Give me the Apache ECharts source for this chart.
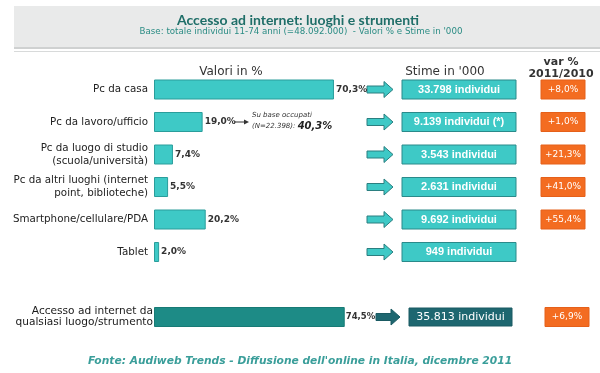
<!DOCTYPE html>
<html><head><meta charset="utf-8">
<script src="https://cdn.jsdelivr.net/npm/echarts@6/dist/echarts.min.js"></script>
<style>html,body{margin:0;padding:0;background:#fff}#c{width:600px;height:373px}</style>
</head><body><div id="c"></div>
<script>
const categories = ['Pc da casa', 'Pc da lavoro/ufficio', 'Pc da luogo di studio\n(scuola/università)', 'Pc da altri luoghi (internet\npoint, biblioteche)', 'Smartphone/cellulare/PDA', 'Tablet'];
const percentValues = [70.3, 19.0, 7.4, 5.5, 20.2, 2.0];
const estimates = ['33.798 individui', '9.139 individui (*)', '3.543 individui', '2.631 individui', '9.692 individui', '949 individui'];
const changes = ['+8,0%', '+1,0%', '+21,3%', '+41,0%', '+55,4%', ''];
const totalCategory = ['Accesso ad internet da\nqualsiasi luogo/strumento'];
const totalValue = [74.5];
const totalEstimate = ['35.813 individui'];
const totalChange = ['+6,9%'];

const FONT = '"DejaVu Sans", Verdana, sans-serif';
const fmt = v => v.toFixed(1).replace('.', ',') + '%';

function decor(est, chg, L) {
  return function (params, api) {
    const i = api.value(1);
    const y = api.coord([0, i])[1];
    const hx = L.ax1 - 9;
    const ch = [];
    ch.push({ type: 'polygon', shape: { points: [[L.ax0, y - 3.5], [hx, y - 3.5], [hx, y - 8], [L.ax1, y], [hx, y + 8], [hx, y + 3.5], [L.ax0, y + 3.5]] },
      style: { fill: L.arrowFill, stroke: L.arrowStroke, lineWidth: 1 } });
    ch.push({ type: 'rect', shape: { x: L.bx0, y: y - L.bh / 2, width: L.bx1 - L.bx0, height: L.bh },
      style: { fill: L.boxFill, stroke: L.boxStroke, lineWidth: 1 } });
    ch.push({ type: 'text', style: { text: est[i], x: (L.bx0 + L.bx1) / 2, y: y, textAlign: 'center', textVerticalAlign: 'middle', fill: '#fff', font: L.boxFont } });
    if (chg[i]) {
      ch.push({ type: 'rect', shape: { x: L.vx0, y: y - L.vh / 2, width: L.vx1 - L.vx0, height: L.vh },
        style: { fill: '#f36c21', stroke: '#e5601a', lineWidth: 1 } });
      ch.push({ type: 'text', style: { text: chg[i], x: (L.vx0 + L.vx1) / 2, y: y, textAlign: 'center', textVerticalAlign: 'middle', fill: '#fff', font: '9px ' + FONT } });
    }
    return { type: 'group', children: ch };
  };
}

const mainLayout = { ax0: 367, ax1: 393, bx0: 402, bx1: 516, bh: 19, vx0: 541, vx1: 585, vh: 19,
  arrowFill: '#3ec9c6', arrowStroke: '#2b7f80', boxFill: '#3ec9c6', boxStroke: '#2a8a8a', boxFont: 'bold 11px "Liberation Sans", Arial, sans-serif' };
const totLayout = { ax0: 376, ax1: 400, bx0: 409, bx1: 512, bh: 18, vx0: 545, vx1: 589, vh: 19,
  arrowFill: '#1e6770', arrowStroke: '#1a5a62', boxFill: '#1e6770', boxStroke: '#1a5a62', boxFont: '11px ' + FONT };

const chart = echarts.init(document.getElementById('c'), null, { renderer: 'canvas' });
chart.setOption({
  animation: false,
  backgroundColor: '#fff',
  grid: [
    { left: 154, width: 256, top: 73.25, height: 195 },
    { left: 154, width: 256, top: 302, height: 30 }
  ],
  xAxis: [
    { gridIndex: 0, type: 'value', min: 0, max: 100, show: false },
    { gridIndex: 1, type: 'value', min: 0, max: 100, show: false }
  ],
  yAxis: [
    { gridIndex: 0, type: 'category', data: categories, inverse: true,
      axisLine: { show: false }, axisTick: { show: false },
      axisLabel: { margin: 6, color: '#222', fontSize: 10.3, lineHeight: 13, fontFamily: FONT } },
    { gridIndex: 1, type: 'category', data: totalCategory, inverse: true,
      axisLine: { show: false }, axisTick: { show: false },
      axisLabel: { margin: 1, color: '#1a1a1a', fontSize: 10.6, lineHeight: 11, fontFamily: FONT } }
  ],
  series: [
    { type: 'bar', xAxisIndex: 0, yAxisIndex: 0, data: percentValues, barWidth: 20,
      itemStyle: { color: '#3ec9c6', borderColor: '#2a9d9b', borderWidth: 1 },
      label: { show: true, position: 'right', distance: 2, formatter: p => fmt(p.value), color: '#333', fontWeight: 'bold', fontSize: 9, fontFamily: FONT } },
    { type: 'custom', xAxisIndex: 0, yAxisIndex: 0, data: categories.map((c, i) => [0, i]), encode: { x: 0, y: 1 },
      renderItem: decor(estimates, changes, mainLayout), silent: true },
    { type: 'bar', xAxisIndex: 1, yAxisIndex: 1, data: totalValue, barWidth: 20,
      itemStyle: { color: '#1d8b86', borderColor: '#187a75', borderWidth: 1 },
      label: { show: true, position: 'right', distance: 1, formatter: p => fmt(p.value), color: '#333', fontWeight: 'bold', fontSize: 8.5, fontFamily: FONT } },
    { type: 'custom', xAxisIndex: 1, yAxisIndex: 1, data: totalCategory.map((c, i) => [0, i]), encode: { x: 0, y: 1 },
      renderItem: decor(totalEstimate, totalChange, totLayout), silent: true }
  ],
  graphic: [
    { type: 'rect', shape: { x: 14, y: 6, width: 586, height: 41 }, style: { fill: '#e9eaea' }, z: -1 },
    { type: 'rect', shape: { x: 14, y: 47, width: 586, height: 2 }, style: { fill: '#cfd1d1' }, z: -1 },
    { type: 'rect', shape: { x: 14, y: 51, width: 586, height: 1 }, style: { fill: '#d8dada' }, z: -1 },
    { type: 'text', style: { text: 'Accesso ad internet: luoghi e strumenti', x: 298, y: 20, textAlign: 'center', textVerticalAlign: 'middle', fill: '#1f6e68', font: 'bold 14px Lato, ' + FONT } },
    { type: 'text', style: { text: "Base: totale individui 11-74 anni (=48.092.000)  - Valori % e Stime in '000", x: 301, y: 32, textAlign: 'center', textVerticalAlign: 'middle', fill: '#2a8c84', font: '8.7px ' + FONT } },
    { type: 'text', style: { text: 'Valori in %', x: 231, y: 72, textAlign: 'center', textVerticalAlign: 'middle', fill: '#333', font: '12px ' + FONT } },
    { type: 'text', style: { text: "Stime in '000", x: 445, y: 72, textAlign: 'center', textVerticalAlign: 'middle', fill: '#333', font: '12px ' + FONT } },
    { type: 'text', style: { text: 'var %', x: 561, y: 62, textAlign: 'center', textVerticalAlign: 'middle', fill: '#333', font: 'bold 11px ' + FONT } },
    { type: 'text', style: { text: '2011/2010', x: 561, y: 74, textAlign: 'center', textVerticalAlign: 'middle', fill: '#333', font: 'bold 11px ' + FONT } },
    { type: 'line', shape: { x1: 234, y1: 122, x2: 245, y2: 122 }, style: { stroke: '#333', lineWidth: 1 } },
    { type: 'polygon', shape: { points: [[244, 119.5], [249, 122], [244, 124.5]] }, style: { fill: '#333' } },
    { type: 'text', style: { text: 'Su base occupati', x: 252, y: 115, textVerticalAlign: 'middle', fill: '#333', font: 'italic 7px ' + FONT } },
    { type: 'text', style: { text: '{a|(N=22.398): }{b|40,3%}', x: 252, y: 126, textVerticalAlign: 'middle',
      rich: { a: { fill: '#333', font: 'italic 7px ' + FONT }, b: { fill: '#222', font: 'italic bold 10px ' + FONT } } } },
    { type: 'text', style: { text: "Fonte: Audiweb Trends - Diffusione dell'online in Italia, dicembre 2011", x: 300, y: 361, textAlign: 'center', textVerticalAlign: 'middle', fill: '#3a9e9a', font: 'italic bold 10.7px ' + FONT } }
  ]
});
</script>
</body></html>
